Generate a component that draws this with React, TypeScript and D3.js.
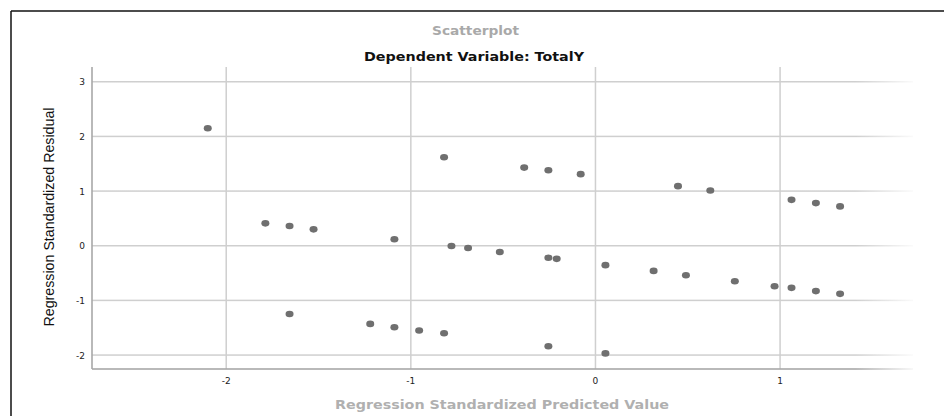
import React from "react";
import * as d3 from "d3";

// Regression standardized predicted values (x) and residuals (y)
const predicted = [
  -2.1, -0.82, -0.386, -0.255, -0.08, 0.447, 0.622, 1.062, 1.194, 1.325,
  -1.788, -1.657, -1.527, -1.089, -0.78, -0.69, -0.518, -0.255, -0.21, 0.054,
  0.315, 0.49, 0.755, 0.97, 1.062, 1.194, 1.325,
  -1.657, -1.22, -1.089, -0.955, -0.82, -0.255, 0.054,
];
const residual = [
  2.15, 1.62, 1.43, 1.38, 1.31, 1.09, 1.01, 0.84, 0.78, 0.72,
  0.41, 0.36, 0.3, 0.12, -0.005, -0.04, -0.115, -0.22, -0.24, -0.355,
  -0.46, -0.54, -0.65, -0.74, -0.77, -0.83, -0.88,
  -1.25, -1.43, -1.49, -1.55, -1.6, -1.84, -1.97,
];
const xTicks = [-2, -1, 0, 1];
const yTicks = [-2, -1, 0, 1, 2, 3];

const W = 944;
const H = 416;
const margin = { left: 92, right: 31, top: 67, bottom: 47 };

export default function App() {
  const x = d3
    .scaleLinear()
    .domain([-2.727, 1.72])
    .range([margin.left, W - margin.right]);
  const y = d3
    .scaleLinear()
    .domain([-2.255, 3.27])
    .range([H - margin.bottom, margin.top]);

  const font = "Liberation Sans, Arial, sans-serif";
  const wide = "DejaVu Sans, Verdana, sans-serif";
  const grid = "#cfcfcf";

  return (
    <svg
      width={W}
      height={H}
      style={{ position: "absolute", left: 0, top: 0, background: "#fff" }}
      fontFamily={font}
    >
      <defs>
        <linearGradient id="fade" x1="0" x2="1" y1="0" y2="0">
          <stop offset="0.93" stopColor={grid} stopOpacity={1} />
          <stop offset="1" stopColor={grid} stopOpacity={0.1} />
        </linearGradient>
        <linearGradient id="fadeAxis" x1="0" x2="1" y1="0" y2="0">
          <stop offset="0.93" stopColor="#a8a8a8" stopOpacity={1} />
          <stop offset="1" stopColor="#a8a8a8" stopOpacity={0.1} />
        </linearGradient>
      </defs>
      {/* frame */}
      <line x1={11} x2={W} y1={11} y2={11} stroke="#111" strokeWidth={1.5} />
      <line x1={11} x2={11} y1={11} y2={H} stroke="#111" strokeWidth={1.5} />

      {/* titles */}
      <text
        x={432}
        y={35}
        fontFamily={wide}
        fontSize={12}
        fontWeight="bold"
        fill="#a9a9a9"
        textLength={87}
        lengthAdjust="spacingAndGlyphs"
      >
        Scatterplot
      </text>
      <text
        x={364}
        y={61}
        fontFamily={wide}
        fontSize={12.5}
        fontWeight="bold"
        fill="#111"
        textLength={220}
        lengthAdjust="spacingAndGlyphs"
      >
        Dependent Variable: TotalY
      </text>

      {/* grid */}
      {yTicks.map((t) => (
        <rect
          key={"gy" + t}
          x={x.range()[0]}
          y={y(t) - 0.75}
          width={x.range()[1] - x.range()[0]}
          height={1.5}
          fill="url(#fade)"
        />
      ))}
      {xTicks.map((t) => (
        <line
          key={"gx" + t}
          x1={x(t)}
          x2={x(t)}
          y1={margin.top}
          y2={H - margin.bottom}
          stroke={grid}
          strokeWidth={1.5}
        />
      ))}

      {/* axes */}
      <line
        x1={x.range()[0]}
        x2={x.range()[0]}
        y1={margin.top}
        y2={H - margin.bottom}
        stroke="#a8a8a8"
        strokeWidth={1.6}
      />
      <rect
        x={x.range()[0]}
        y={H - margin.bottom - 0.8}
        width={x.range()[1] - x.range()[0]}
        height={1.6}
        fill="url(#fadeAxis)"
      />

      {/* tick labels */}
      {yTicks.map((t) => (
        <text key={"ty" + t} x={85} y={y(t) + 3.5} textAnchor="end" fontFamily={wide} fontSize={9} fill="#222">
          {t}
        </text>
      ))}
      {xTicks.map((t) => (
        <text key={"tx" + t} x={x(t)} y={384} textAnchor="middle" fontFamily={wide} fontSize={9} fill="#222">
          {t}
        </text>
      ))}

      {/* axis titles */}
      <text
        x={335}
        y={409}
        fontFamily={wide}
        fontSize={13}
        fontWeight="bold"
        fill="#b0b0b0"
        textLength={334}
        lengthAdjust="spacingAndGlyphs"
      >
        Regression Standardized Predicted Value
      </text>
      <text
        transform={`translate(54,217) rotate(-90)`}
        textAnchor="middle"
        fontSize={14}
        fill="#111"
        textLength={219}
        lengthAdjust="spacingAndGlyphs"
      >
        Regression Standardized Residual
      </text>

      {/* points */}
      {predicted.map((p, i) => (
        <ellipse key={i} cx={x(p)} cy={y(residual[i])} rx={4} ry={3.3} fill="#6f6f6f" />
      ))}
    </svg>
  );
}
